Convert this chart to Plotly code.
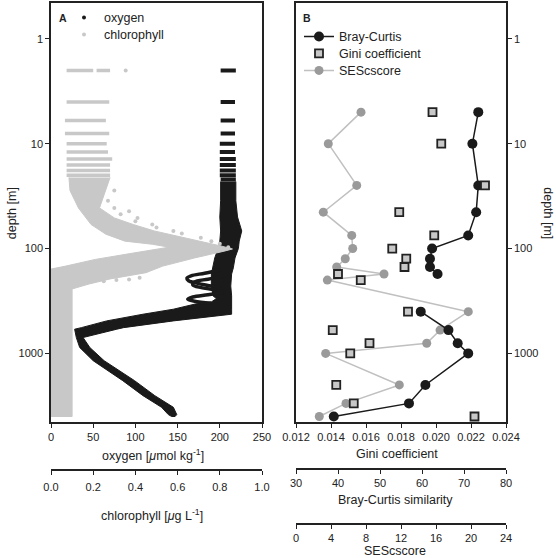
import plotly.graph_objects as go

# ---------------- Panel A data ----------------
# near-surface 2-m depth bins (many casts -> horizontal runs of points)
o2_bin_depth = [2, 4, 6, 8, 10, 12, 14, 16, 18, 20, 22]
o2_bin_min = [201, 201, 201, 201, 200, 200, 200, 200, 200, 200, 201]
o2_bin_max = [219, 218, 218, 218, 218, 218, 219, 219, 219, 219, 219]

# envelope of the main body of oxygen casts below the surface bins
o2_env_depth = [23, 35, 50, 68, 85, 100, 123, 153, 175, 228, 283, 300, 323, 338, 379, 423,
                472, 490, 568, 588, 706, 879, 1175, 1821, 2530, 3268, 3836, 4000]
o2_env_min = [201, 201, 200, 201, 200, 198, 194, 192, 190, 190, 192, 196, 190, 171, 145, 109,
              74, 66, 36, 28, 30, 34, 50, 85, 109, 131, 139, 143]
o2_env_max = [219, 219, 221, 226, 223, 222, 218, 216, 214, 213, 214, 214, 214, 214, 214, 214,
              162, 145, 86, 78, 38, 46, 63, 99, 123, 145, 149, 147]

# individual casts looping away from the main body (oxygen minimum intrusions)
loop1_depth = [160, 172, 182, 192, 203, 215, 228, 240]
loop1_o2 = [200, 182, 166, 161, 163, 174, 190, 202]
loop2_depth = [185, 196, 208, 222, 236, 248]
loop2_o2 = [204, 186, 170, 168, 178, 196]
loop3_depth = [262, 276, 290, 304, 318, 332]
loop3_o2 = [204, 186, 168, 162, 170, 190]

chl_bin_depth = [2, 2, 4, 6, 8, 10, 12, 14, 16, 18, 20]
chl_bin_min = [0.074, 0.216, 0.074, 0.066, 0.066, 0.074, 0.074, 0.074, 0.074, 0.074, 0.074]
chl_bin_max = [0.200, 0.280, 0.276, 0.260, 0.276, 0.264, 0.270, 0.290, 0.280, 0.280, 0.280]

# outline of the dense chlorophyll cloud
chl_outline_depth = [21, 28, 41, 59, 73, 85, 91, 97, 113, 127, 147, 157, 4000, 4000,
                     243, 218, 195, 170, 147, 123, 106, 101, 95, 88, 79, 68, 59, 51, 41, 28, 21]
chl_outline_value = [0.085, 0.09, 0.13, 0.19, 0.26, 0.35, 0.48, 0.56, 0.36, 0.21, 0.07, 0.0,
                     0.0, 0.10, 0.10, 0.18, 0.28, 0.45, 0.53, 0.68, 0.82, 0.86, 0.81, 0.74,
                     0.64, 0.49, 0.39, 0.30, 0.23, 0.26, 0.28]

# scattered chlorophyll points outside the dense cloud
chl_pts_depth = [2, 28, 35, 41, 44, 47, 51, 55, 59, 63, 68, 72, 79, 85, 90, 97,
                 205, 205, 200, 197, 190]
chl_pts_value = [0.354, 0.30, 0.27, 0.30, 0.37, 0.33, 0.41, 0.40, 0.48, 0.50, 0.58, 0.62,
                 0.71, 0.76, 0.80, 0.84, 0.19, 0.25, 0.31, 0.37, 0.42]

# ---------------- Panel B data ----------------
depth_b = [5, 10, 25, 45, 75, 100, 125, 150, 175, 200, 400, 600, 800, 1000, 2000, 3000, 4000]
gini = [0.0198, 0.0203, 0.0228, 0.0179, 0.0199, 0.0175, 0.0183, 0.0182, 0.0144, 0.0157,
        0.0184, 0.0141, 0.0162, 0.0151, 0.0143, 0.0153, 0.0222]
bray = [73.4, 72.0, 73.4, 72.9, 71.0, 62.4, 61.9, 61.9, 63.7, None, 59.7, 66.3, 68.5,
        71.0, 60.8, 56.9, 39.0]
ses = [7.43, 3.69, 6.94, 3.12, 6.37, 6.48, 5.63, 4.65, 10.06, 3.58, 19.69, 16.46, 14.94,
       3.39, 11.81, 5.71, 2.66]

depth_ticks = [1, 10, 100, 1000]
o2_ticks = [0, 50, 100, 150, 200, 250]
chl_ticks = [0.0, 0.2, 0.4, 0.6, 0.8, 1.0]
gini_ticks = [0.012, 0.014, 0.016, 0.018, 0.020, 0.022, 0.024]
bray_ticks = [30, 40, 50, 60, 70, 80]
ses_ticks = [0, 4, 8, 12, 16, 20, 24]

# ---------------- layout helpers ----------------
W, H = 556, 558
ML, MR, MT, MB = 51, 50, 1, 5
PW, PH = W - ML - MR, H - MT - MB


def px(x):
    return (x - ML) / PW


def py(y):
    return 1 - (y - MT) / PH


FONT = "Liberation Sans, Arial, Helvetica, sans-serif"
INK = "#222222"
CHL = "#c8c8c8"
BLK = "#1a1a1a"

fig = go.Figure()

# oxygen envelope
fig.add_trace(go.Scatter(
    x=o2_env_min + o2_env_max[::-1], y=o2_env_depth + o2_env_depth[::-1],
    fill="toself", fillcolor=BLK, line=dict(color=BLK, width=1),
    mode="lines", showlegend=False, hoverinfo="skip", xaxis="x", yaxis="y"))
for lx, ly in [(loop1_o2, loop1_depth), (loop2_o2, loop2_depth), (loop3_o2, loop3_depth)]:
    fig.add_trace(go.Scatter(x=lx, y=ly, mode="lines",
                             line=dict(color=BLK, width=3.5, shape="spline"),
                             showlegend=False, hoverinfo="skip", xaxis="x", yaxis="y"))
# oxygen surface bins
ox, oy = [], []
for d, a, b in zip(o2_bin_depth, o2_bin_min, o2_bin_max):
    ox += [a, b, None]
    oy += [d, d, None]
fig.add_trace(go.Scatter(x=ox, y=oy, mode="lines", line=dict(color=BLK, width=4),
                         showlegend=False, xaxis="x", yaxis="y"))
# legend entry oxygen
fig.add_trace(go.Scatter(x=[None], y=[None], mode="markers", name="oxygen",
                         marker=dict(color=BLK, size=4), legend="legend",
                         xaxis="x", yaxis="y"))

# chlorophyll cloud
fig.add_trace(go.Scatter(
    x=chl_outline_value, y=chl_outline_depth, fill="toself", fillcolor=CHL,
    line=dict(color=CHL, width=1), mode="lines", showlegend=False,
    hoverinfo="skip", xaxis="x2", yaxis="y"))
cx, cy = [], []
for d, a, b in zip(chl_bin_depth, chl_bin_min, chl_bin_max):
    cx += [a, b, None]
    cy += [d, d, None]
fig.add_trace(go.Scatter(x=cx, y=cy, mode="lines", line=dict(color=CHL, width=3.5),
                         showlegend=False, xaxis="x2", yaxis="y"))
fig.add_trace(go.Scatter(x=chl_pts_value, y=chl_pts_depth, mode="markers",
                         name="chlorophyll", marker=dict(color=CHL, size=4),
                         legend="legend5", xaxis="x2", yaxis="y"))

# panel B
fig.add_trace(go.Scatter(x=ses, y=depth_b, mode="lines+markers", name="SEScscore",
                         line=dict(color="#c0c0c0", width=1.5),
                         marker=dict(color="#9a9a9a", size=9),
                         legend="legend4", xaxis="x3", yaxis="y2"))
fig.add_trace(go.Scatter(x=bray, y=depth_b, mode="lines+markers", name="Bray-Curtis",
                         line=dict(color=BLK, width=1.5),
                         marker=dict(color=BLK, size=10),
                         connectgaps=False,
                         legend="legend2", xaxis="x4", yaxis="y2"))
fig.add_trace(go.Scatter(x=gini, y=depth_b, mode="markers", name="Gini coefficient",
                         marker=dict(color="#c8c8c8", size=8, symbol="square",
                                     line=dict(color=INK, width=1.8)),
                         legend="legend3", xaxis="x5", yaxis="y2"))

ydom = [py(422), 1]
yrange = [3.659, -0.342]
axis_common = dict(showgrid=False, zeroline=False, showline=True, linecolor=INK,
                   linewidth=1.5, ticks="outside", ticklen=4, tickwidth=1,
                   tickcolor=INK, tickfont=dict(size=11, color=INK, family=FONT))
domA = [0, px(262)]
domB = [px(296), 1]


def leg(x, y):
    return dict(x=px(x), y=py(y), xanchor="left", yanchor="middle",
                bgcolor="rgba(0,0,0,0)", borderwidth=0,
                font=dict(size=12.5, family=FONT, color=INK), itemwidth=30)


fig.update_layout(
    width=W, height=H, margin=dict(l=ML, r=MR, t=MT, b=MB),
    paper_bgcolor="white", plot_bgcolor="white",
    font=dict(family=FONT, size=12, color=INK),
    xaxis=dict(domain=domA, range=[0, 250], anchor="y", mirror=True,
               tickvals=o2_ticks, **axis_common),
    xaxis2=dict(domain=domA, range=[0, 1], overlaying="x", anchor="free",
                position=py(470), tickvals=chl_ticks,
                ticktext=[f"{v:.1f}" for v in chl_ticks], ticklabelstandoff=3,
                **axis_common),
    yaxis=dict(domain=ydom, type="log", range=yrange, anchor="x", mirror=True,
               tickvals=depth_ticks, ticktext=[str(v) for v in depth_ticks],
               **axis_common),
    xaxis3=dict(domain=domB, range=[0, 24], anchor="free", position=py(524),
                tickvals=ses_ticks, **axis_common),
    xaxis4=dict(domain=domB, range=[30, 80], overlaying="x3", anchor="free",
                position=py(468.5), tickvals=bray_ticks, **axis_common),
    xaxis5=dict(domain=domB, range=[0.012, 0.024], overlaying="x3", anchor="y2",
                mirror=True, tickvals=gini_ticks,
                ticktext=[f"{v:.3f}" for v in gini_ticks], **axis_common),
    yaxis2=dict(domain=ydom, type="log", range=yrange, anchor="x3", side="right",
                mirror=True, tickvals=depth_ticks,
                ticktext=[str(v) for v in depth_ticks], **axis_common),
    legend=leg(64, 16),
    legend5=leg(64, 33),
    legend2=leg(299, 35),
    legend3=leg(299, 52),
    legend4=leg(299, 69),
)

ann = [
    dict(text="<b>A</b>", x=px(63), y=py(16), size=10.5, angle=0),
    dict(text="<b>B</b>", x=px(307), y=py(16), size=10.5, angle=0),
    dict(text="oxygen [<i>μ</i>mol kg<sup>-1</sup>]", x=px(153), y=py(455), size=12.5, angle=0),
    dict(text="chlorophyll [<i>μ</i>g L<sup>-1</sup>]", x=px(152), y=py(515), size=12.5, angle=0),
    dict(text="Gini coefficient", x=px(397), y=py(454), size=12.5, angle=0),
    dict(text="Bray-Curtis similarity", x=px(395), y=py(500), size=12.5, angle=0),
    dict(text="SEScscore", x=px(395), y=py(551), size=12.5, angle=0),
    dict(text="depth [m]", x=px(12), y=py(212), size=12.5, angle=-90),
    dict(text="depth [m]", x=px(548), y=py(212), size=12.5, angle=90),
]
for a in ann:
    fig.add_annotation(text=a["text"], x=a["x"], y=a["y"], xref="paper", yref="paper",
                       showarrow=False, xanchor="center", yanchor="middle",
                       textangle=a["angle"],
                       font=dict(size=a["size"], family=FONT, color=INK))

fig.write_html("out.html", config={"displayModeBar": False},
               post_script="document.body.style.margin='0px';document.body.style.padding='0px';")
